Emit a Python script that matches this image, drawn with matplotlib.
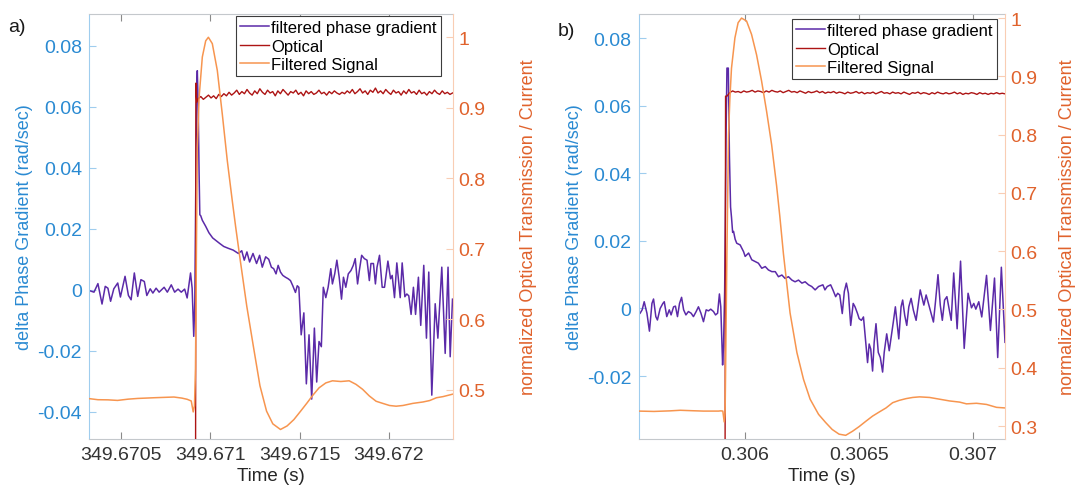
#!/usr/bin/env python3
# _*_ coding=utf-8 _*_

import numpy as np
import matplotlib
matplotlib.use("Agg")
import matplotlib.pyplot as plt
from matplotlib.ticker import FuncFormatter

plt.rcParams["font.family"] = ["Liberation Sans", "DejaVu Sans"]

# ---- panel a) : times are microseconds after 349.6705 s ----
t0_a = 349.6705
xlim_a_us = [-180, 1857]
xticks_a = [349.6705, 349.671, 349.6715, 349.672]

phase_a_us = [
    -178, -152, -130, -107, -89, -74, -59, -41, -19, -4,
    22, 41, 56, 74, 93, 111, 130, 144, 163, 178,
    196, 213, 241, 259, 281, 300, 319, 337, 356, 370,
    389, 398, 407, 413, 418, 423, 427, 432, 437, 441,
    446, 455, 474, 492, 513, 552, 575, 600, 628, 657,
    676, 690, 705, 720, 739, 759, 776, 791, 810, 827,
    842, 855, 868, 880, 893, 906, 921, 936, 949, 962,
    977, 987, 996, 1009, 1024, 1038, 1053, 1068, 1083, 1096,
    1109, 1122, 1133, 1147, 1160, 1175, 1184, 1197, 1209, 1222,
    1235, 1246, 1259, 1273, 1288, 1301, 1312, 1325, 1335, 1348,
    1363, 1378, 1391, 1400, 1414, 1425, 1434, 1448, 1463, 1476,
    1495, 1510, 1519, 1532, 1545, 1564, 1575, 1590, 1601, 1612,
    1625, 1638, 1650, 1666, 1679, 1696, 1711, 1724, 1741, 1760,
    1775, 1797, 1816, 1832, 1844, 1857]
phase_a = [
    -0.0003, -0.0008, 0.0020, -0.0047, 0.0011, 0.0005, -0.0038, 0.0003, 0.0022, -0.0024,
    0.0044, -0.0019, -0.0033, 0.0055, -0.0022, 0.0033, 0.0027, -0.0019, 0.0003, -0.0011,
    0.0005, -0.0008, 0.0008, -0.0008, 0.0016, -0.0008, 0.0002, -0.0008, 0.0002, -0.0027,
    0.0055, 0.0005, -0.0153, -0.0038, 0.0300, 0.0660, 0.0719, 0.0600, 0.0380, 0.0246,
    0.0243, 0.0228, 0.0208, 0.0187, 0.0170, 0.0152, 0.0142, 0.0136, 0.0130, 0.0119,
    0.0128, 0.0097, 0.0124, 0.0091, 0.0119, 0.0086, 0.0113, 0.0074, 0.0108, 0.0100,
    0.0074, 0.0069, 0.0052, 0.0080, 0.0058, 0.0047, 0.0041, 0.0036, 0.0030, 0.0013,
    -0.0009, 0.0013, 0.0008, -0.0148, -0.0076, -0.0309, -0.0148, -0.0359, -0.0126, -0.0303,
    -0.0170, -0.0187, 0.0008, -0.0026, 0.0008, 0.0069, 0.0019, 0.0052, 0.0097, 0.0041,
    -0.0031, 0.0041, 0.0008, 0.0052, 0.0063, 0.0080, 0.0102, 0.0019, 0.0063, 0.0113,
    0.0102, 0.0097, 0.0030, 0.0086, 0.0086, 0.0019, 0.0074, 0.0113, 0.0008, 0.0008,
    0.0094, 0.0036, 0.0047, -0.0026, 0.0088, -0.0026, 0.0088, -0.0023, -0.0014, -0.0020,
    -0.0081, 0.0008, -0.0081, 0.0041, -0.0117, 0.0080, -0.0159, 0.0058, -0.0346, -0.0046,
    -0.0159, 0.0074, -0.0209, 0.0074, -0.0220, -0.0031]

filt_a_us = [
    -178, -130, -74, -20, 40, 93, 140, 185, 240, 296,
    340, 370, 393, 404, 411, 417, 422, 427, 437, 455,
    474, 489, 511, 539, 567, 595, 623, 642, 667, 704,
    741, 778, 815, 850, 893, 930, 968, 1006, 1043, 1071,
    1109, 1147, 1184, 1231, 1278, 1316, 1353, 1391, 1429, 1466,
    1504, 1541, 1579, 1635, 1692, 1729, 1767, 1804, 1857]
filt_a = [
    0.4877, 0.4862, 0.4860, 0.4852, 0.4870, 0.4880, 0.4885, 0.4890, 0.4895, 0.4900,
    0.4885, 0.4868, 0.4844, 0.4689, 0.4774, 0.5300, 0.7000, 0.8440, 0.9150, 0.9720,
    0.9950, 1.0000, 0.9910, 0.9530, 0.8910, 0.8250, 0.7680, 0.7310, 0.6850, 0.6190,
    0.5620, 0.5060, 0.4700, 0.4520, 0.4440, 0.4490, 0.4580, 0.4700, 0.4820, 0.4915,
    0.5030, 0.5100, 0.5130, 0.5120, 0.5130, 0.5080, 0.5010, 0.4915, 0.4840, 0.4810,
    0.4780, 0.4770, 0.4780, 0.4810, 0.4830, 0.4850, 0.4890, 0.4906, 0.4940]

# optical trace: dark before the step, then sampled evenly up to the end
optical_a_head_us = [-178, 416, 419, 424]
optical_a_head = [0.0, 0.0, 0.935, 0.908]
optical_a_span_us = [432, 1857]
optical_a = [
    0.913, 0.916, 0.912, 0.915, 0.918, 0.914, 0.917, 0.913, 0.919, 0.916,
    0.920, 0.917, 0.922, 0.918, 0.921, 0.925, 0.919, 0.923, 0.920, 0.926,
    0.921, 0.918, 0.924, 0.920, 0.927, 0.922, 0.919, 0.925, 0.921, 0.923,
    0.917, 0.924, 0.920, 0.926, 0.922, 0.918, 0.923, 0.921, 0.925, 0.919,
    0.922, 0.917, 0.924, 0.920, 0.923, 0.919, 0.921, 0.925, 0.920, 0.922,
    0.918, 0.923, 0.920, 0.924, 0.921, 0.919, 0.922, 0.920, 0.924, 0.921,
    0.926, 0.920, 0.923, 0.927, 0.921, 0.924, 0.919, 0.925, 0.922, 0.928,
    0.921, 0.924, 0.920, 0.926, 0.922, 0.919, 0.925, 0.921, 0.923, 0.918,
    0.924, 0.920, 0.926, 0.921, 0.923, 0.919, 0.925, 0.920, 0.922, 0.918,
    0.923, 0.920, 0.925, 0.921, 0.919, 0.924, 0.920, 0.922, 0.919, 0.921]

# ---- panel b) : times are microseconds after 0.306 s ----
t0_b = 0.306
xlim_b_us = [-468, 1140]
xticks_b = [0.306, 0.3065, 0.307]

phase_b_us = [
    -461, -452, -443, -431, -420, -409, -402, -392, -385, -373,
    -361, -355, -344, -333, -325, -314, -306, -297, -288, -279,
    -270, -260, -249, -237, -227, -215, -205, -194, -183, -171,
    -161, -151, -139, -130, -121, -113, -107, -99, -95, -90,
    -84, -80, -74, -69, -64, -60, -55, -51, -44, -37,
    -22, -7, 0, 15, 29, 44, 58, 73, 88, 102,
    117, 132, 146, 161, 175, 190, 205, 219, 234, 249,
    263, 278, 292, 307, 322, 341, 350, 360, 375, 385,
    397, 406, 415, 426, 435, 444, 453, 463, 474, 482,
    493, 500, 510, 519, 529, 537, 544, 551, 559, 566,
    574, 584, 593, 603, 610, 621, 632, 650, 659, 674,
    684, 691, 700, 709, 718, 728, 738, 750, 768, 784,
    794, 816, 826, 835, 846, 856, 865, 875, 885, 904,
    915, 930, 945, 961, 978, 993, 1003, 1012, 1025, 1038,
    1059, 1076, 1094, 1108, 1124, 1140]
phase_b = [
    -0.0014, -0.0004, 0.0020, -0.0014, -0.0067, 0.0015, 0.0028, -0.0024, -0.0034, 0.0000,
    0.0015, 0.0020, -0.0024, -0.0004, -0.0019, 0.0005, 0.0007, -0.0024, 0.0015, 0.0033,
    -0.0004, -0.0019, -0.0009, -0.0014, -0.0024, -0.0009, 0.0005, -0.0014, -0.0039, -0.0004,
    -0.0007, -0.0002, -0.0009, -0.0019, -0.0014, 0.0043, 0.0005, -0.0167, -0.0113, 0.0050,
    0.0500, 0.0711, 0.0711, 0.0450, 0.0300, 0.0270, 0.0225, 0.0228, 0.0205, 0.0193,
    0.0188, 0.0168, 0.0154, 0.0164, 0.0144, 0.0139, 0.0134, 0.0119, 0.0124, 0.0114,
    0.0109, 0.0109, 0.0094, 0.0099, 0.0089, 0.0094, 0.0084, 0.0079, 0.0084, 0.0075,
    0.0079, 0.0070, 0.0065, 0.0055, 0.0065, 0.0070, 0.0055, 0.0065, 0.0070, 0.0055,
    0.0035, 0.0045, 0.0040, -0.0015, 0.0050, 0.0075, 0.0045, -0.0050, 0.0015, 0.0005,
    -0.0015, -0.0030, -0.0035, -0.0025, -0.0100, -0.0160, -0.0105, -0.0120, -0.0185, -0.0100,
    -0.0045, -0.0130, -0.0145, -0.0188, -0.0130, -0.0075, -0.0125, -0.0040, 0.0005, -0.0090,
    0.0005, 0.0025, -0.0020, -0.0050, 0.0005, 0.0030, -0.0005, -0.0035, 0.0055, 0.0010,
    0.0040, -0.0015, -0.0040, 0.0020, 0.0100, 0.0010, -0.0035, 0.0025, 0.0035, -0.0035,
    0.0105, -0.0060, 0.0140, -0.0118, 0.0045, 0.0002, 0.0015, -0.0002, 0.0020, -0.0025,
    0.0098, -0.0065, 0.0090, -0.0145, 0.0122, -0.0100]

filt_b_us = [
    -468, -400, -329, -285, -230, -183, -117, -107, -98, -92,
    -88, -80, -73, -67, -60, -45, -31, -16, 6, 28,
    50, 72, 94, 116, 138, 152, 168, 197, 227, 256,
    285, 322, 353, 382, 412, 441, 471, 500, 529, 559,
    588, 618, 647, 676, 706, 735, 765, 809, 853, 897,
    941, 971, 1015, 1059, 1103, 1140]
filt_b = [
    0.3256, 0.3250, 0.3260, 0.3270, 0.3262, 0.3256, 0.3256, 0.3260, 0.3256, 0.3070,
    0.3230, 0.6000, 0.8000, 0.8630, 0.9140, 0.9660, 0.9920, 1.0000, 0.9950, 0.9720,
    0.9370, 0.8920, 0.8400, 0.7830, 0.7120, 0.6600, 0.5950, 0.4940, 0.4260, 0.3800,
    0.3460, 0.3200, 0.3060, 0.2940, 0.2860, 0.2840, 0.2910, 0.2990, 0.3080, 0.3170,
    0.3240, 0.3310, 0.3400, 0.3440, 0.3470, 0.3490, 0.3500, 0.3490, 0.3460, 0.3430,
    0.3410, 0.3380, 0.3390, 0.3370, 0.3320, 0.3310]

optical_b_head_us = [-468, -89, -86]
optical_b_head = [0.0, 0.0, 0.866]
optical_b_span_us = [-80, 1140]
optical_b = [
    0.866, 0.872, 0.875, 0.873, 0.874, 0.872, 0.875, 0.873, 0.874, 0.876,
    0.873, 0.875, 0.874, 0.872, 0.875, 0.873, 0.876, 0.874, 0.873, 0.875,
    0.872, 0.874, 0.876, 0.873, 0.874, 0.872, 0.875, 0.873, 0.871, 0.874,
    0.872, 0.873, 0.875, 0.872, 0.874, 0.871, 0.873, 0.872, 0.874, 0.871,
    0.873, 0.872, 0.870, 0.873, 0.871, 0.872, 0.874, 0.871, 0.873, 0.870,
    0.872, 0.871, 0.873, 0.870, 0.872, 0.874, 0.871, 0.872, 0.870, 0.873,
    0.871, 0.872, 0.870, 0.873, 0.871, 0.869, 0.872, 0.871, 0.873, 0.870,
    0.872, 0.871, 0.869, 0.872, 0.870, 0.873, 0.871, 0.870, 0.872, 0.870,
    0.871, 0.873, 0.870, 0.872, 0.869, 0.871, 0.870, 0.872, 0.871, 0.869,
    0.872, 0.870, 0.871, 0.869, 0.871, 0.870, 0.872, 0.870, 0.871, 0.870]

legend_labels = ["filtered phase gradient", "Optical", "Filtered Signal"]

# colours
C_PHASE = "#5b2aa8"
C_OPT = "#ad1414"
C_FILT = "#f7954f"
C_LEFT = "#2a8ad2"
C_RIGHT = "#e0622c"
C_LEFT_SPINE = "#9fcdee"
C_RIGHT_SPINE = "#f9cdb4"
C_FRAME = "#c4c8cc"
C_TEXT = "#333333"

FS_TICK = 14
FS_LABEL = 13


def num_fmt(x, pos=None):
    return ("%.4f" % x).rstrip("0").rstrip(".")


def draw_panel(fig, rect, t0, xlim_us, xticks,
               ph_us, ph, op_head_us, op_head, op_span, op, f_us, f,
               ylim_l, yticks_l, ylim_r, yticks_r,
               lab_l_x, lab_r_x, leg_anchor):
    ax = fig.add_axes(rect)
    ax2 = ax.twinx()

    us = lambda v: t0 + np.asarray(v, dtype=float) * 1e-6

    l1, = ax.plot(us(ph_us), ph, color=C_PHASE, lw=1.1)
    op_t = np.concatenate([op_head_us, np.linspace(op_span[0], op_span[1], len(op))])
    op_v = np.concatenate([op_head, op])
    l2, = ax2.plot(us(op_t), op_v, color=C_OPT, lw=1.0)
    l3, = ax2.plot(us(f_us), f, color=C_FILT, lw=1.1)

    ax.set_xlim(us(xlim_us[0]), us(xlim_us[1]))
    ax.set_xticks(xticks)
    ax.xaxis.set_major_formatter(FuncFormatter(num_fmt))
    ax.set_ylim(*ylim_l)
    ax.set_yticks(yticks_l)
    ax.yaxis.set_major_formatter(FuncFormatter(num_fmt))
    ax2.set_ylim(*ylim_r)
    ax2.set_yticks(yticks_r)
    ax2.yaxis.set_major_formatter(FuncFormatter(num_fmt))

    # spines
    ax.spines["left"].set_color(C_LEFT_SPINE)
    ax.spines["top"].set_color(C_FRAME)
    ax.spines["bottom"].set_color(C_FRAME)
    ax.spines["right"].set_visible(False)
    for s in ("left", "top", "bottom"):
        ax2.spines[s].set_visible(False)
    ax2.spines["right"].set_color(C_RIGHT_SPINE)

    ax.tick_params(axis="x", direction="in", top=True, length=5, width=0.8,
                   color="#8a8a8a", labelcolor=C_TEXT, labelsize=FS_TICK, pad=5)
    ax.tick_params(axis="y", direction="in", length=5, width=0.8,
                   color=C_LEFT_SPINE, labelcolor=C_LEFT, labelsize=FS_TICK, pad=5)
    ax2.tick_params(axis="y", direction="in", length=5, width=0.8,
                    color=C_RIGHT_SPINE, labelcolor=C_RIGHT, labelsize=FS_TICK, pad=4)

    ax.set_xlabel("Time (s)", fontsize=FS_LABEL + 0.5, color="#262626")
    ax.xaxis.set_label_coords(0.5, -0.066)
    ax.set_ylabel("delta Phase Gradient (rad/sec)", fontsize=FS_LABEL, color=C_LEFT)
    ax.yaxis.set_label_coords(lab_l_x, 0.5)
    ax2.set_ylabel("normalized Optical Transmission / Current",
                   fontsize=FS_LABEL, color=C_RIGHT)
    ax2.yaxis.set_label_coords(lab_r_x, 0.5)

    leg = ax2.legend([l1, l2, l3], legend_labels, loc="upper right",
                     bbox_to_anchor=leg_anchor, borderaxespad=0, fontsize=12,
                     frameon=True, fancybox=False, framealpha=1, edgecolor="#3c3c3c",
                     handlelength=1.7, handletextpad=0.15, labelspacing=0.2,
                     borderpad=0.25)
    leg.get_frame().set_linewidth(0.8)
    return ax, ax2


def main():
    fig = plt.figure(figsize=(10.76, 4.89), dpi=100)

    draw_panel(fig, [89 / 1076, 49 / 489, 363.5 / 1076, 425 / 489],
               t0_a, xlim_a_us, xticks_a,
               phase_a_us, phase_a, optical_a_head_us, optical_a_head,
               optical_a_span_us, optical_a, filt_a_us, filt_a,
               (-0.049, 0.0905), [-0.04, -0.02, 0, 0.02, 0.04, 0.06, 0.08],
               (0.4305, 1.033), [0.5, 0.6, 0.7, 0.8, 0.9, 1.0],
               -0.154, 1.186, (0.968, 0.995))

    draw_panel(fig, [638.5 / 1076, 49 / 489, 366.5 / 1076, 425 / 489],
               t0_b, xlim_b_us, xticks_b,
               phase_b_us, phase_b, optical_b_head_us, optical_b_head,
               optical_b_span_us, optical_b, filt_b_us, filt_b,
               (-0.0386, 0.0871), [-0.02, 0, 0.02, 0.04, 0.06, 0.08],
               (0.2777, 1.007), [0.3, 0.4, 0.5, 0.6, 0.7, 0.8, 0.9, 1.0],
               -0.151, 1.148, (0.978, 0.988))

    fig.text(8 / 1076, 1 - 28 / 489, "a)", fontsize=14, color="#1a1a1a", va="center")
    fig.text(558 / 1076, 1 - 31 / 489, "b)", fontsize=14, color="#1a1a1a", va="center")

    fig.savefig("out.png", dpi=100)


if __name__ == "__main__":
    main()
